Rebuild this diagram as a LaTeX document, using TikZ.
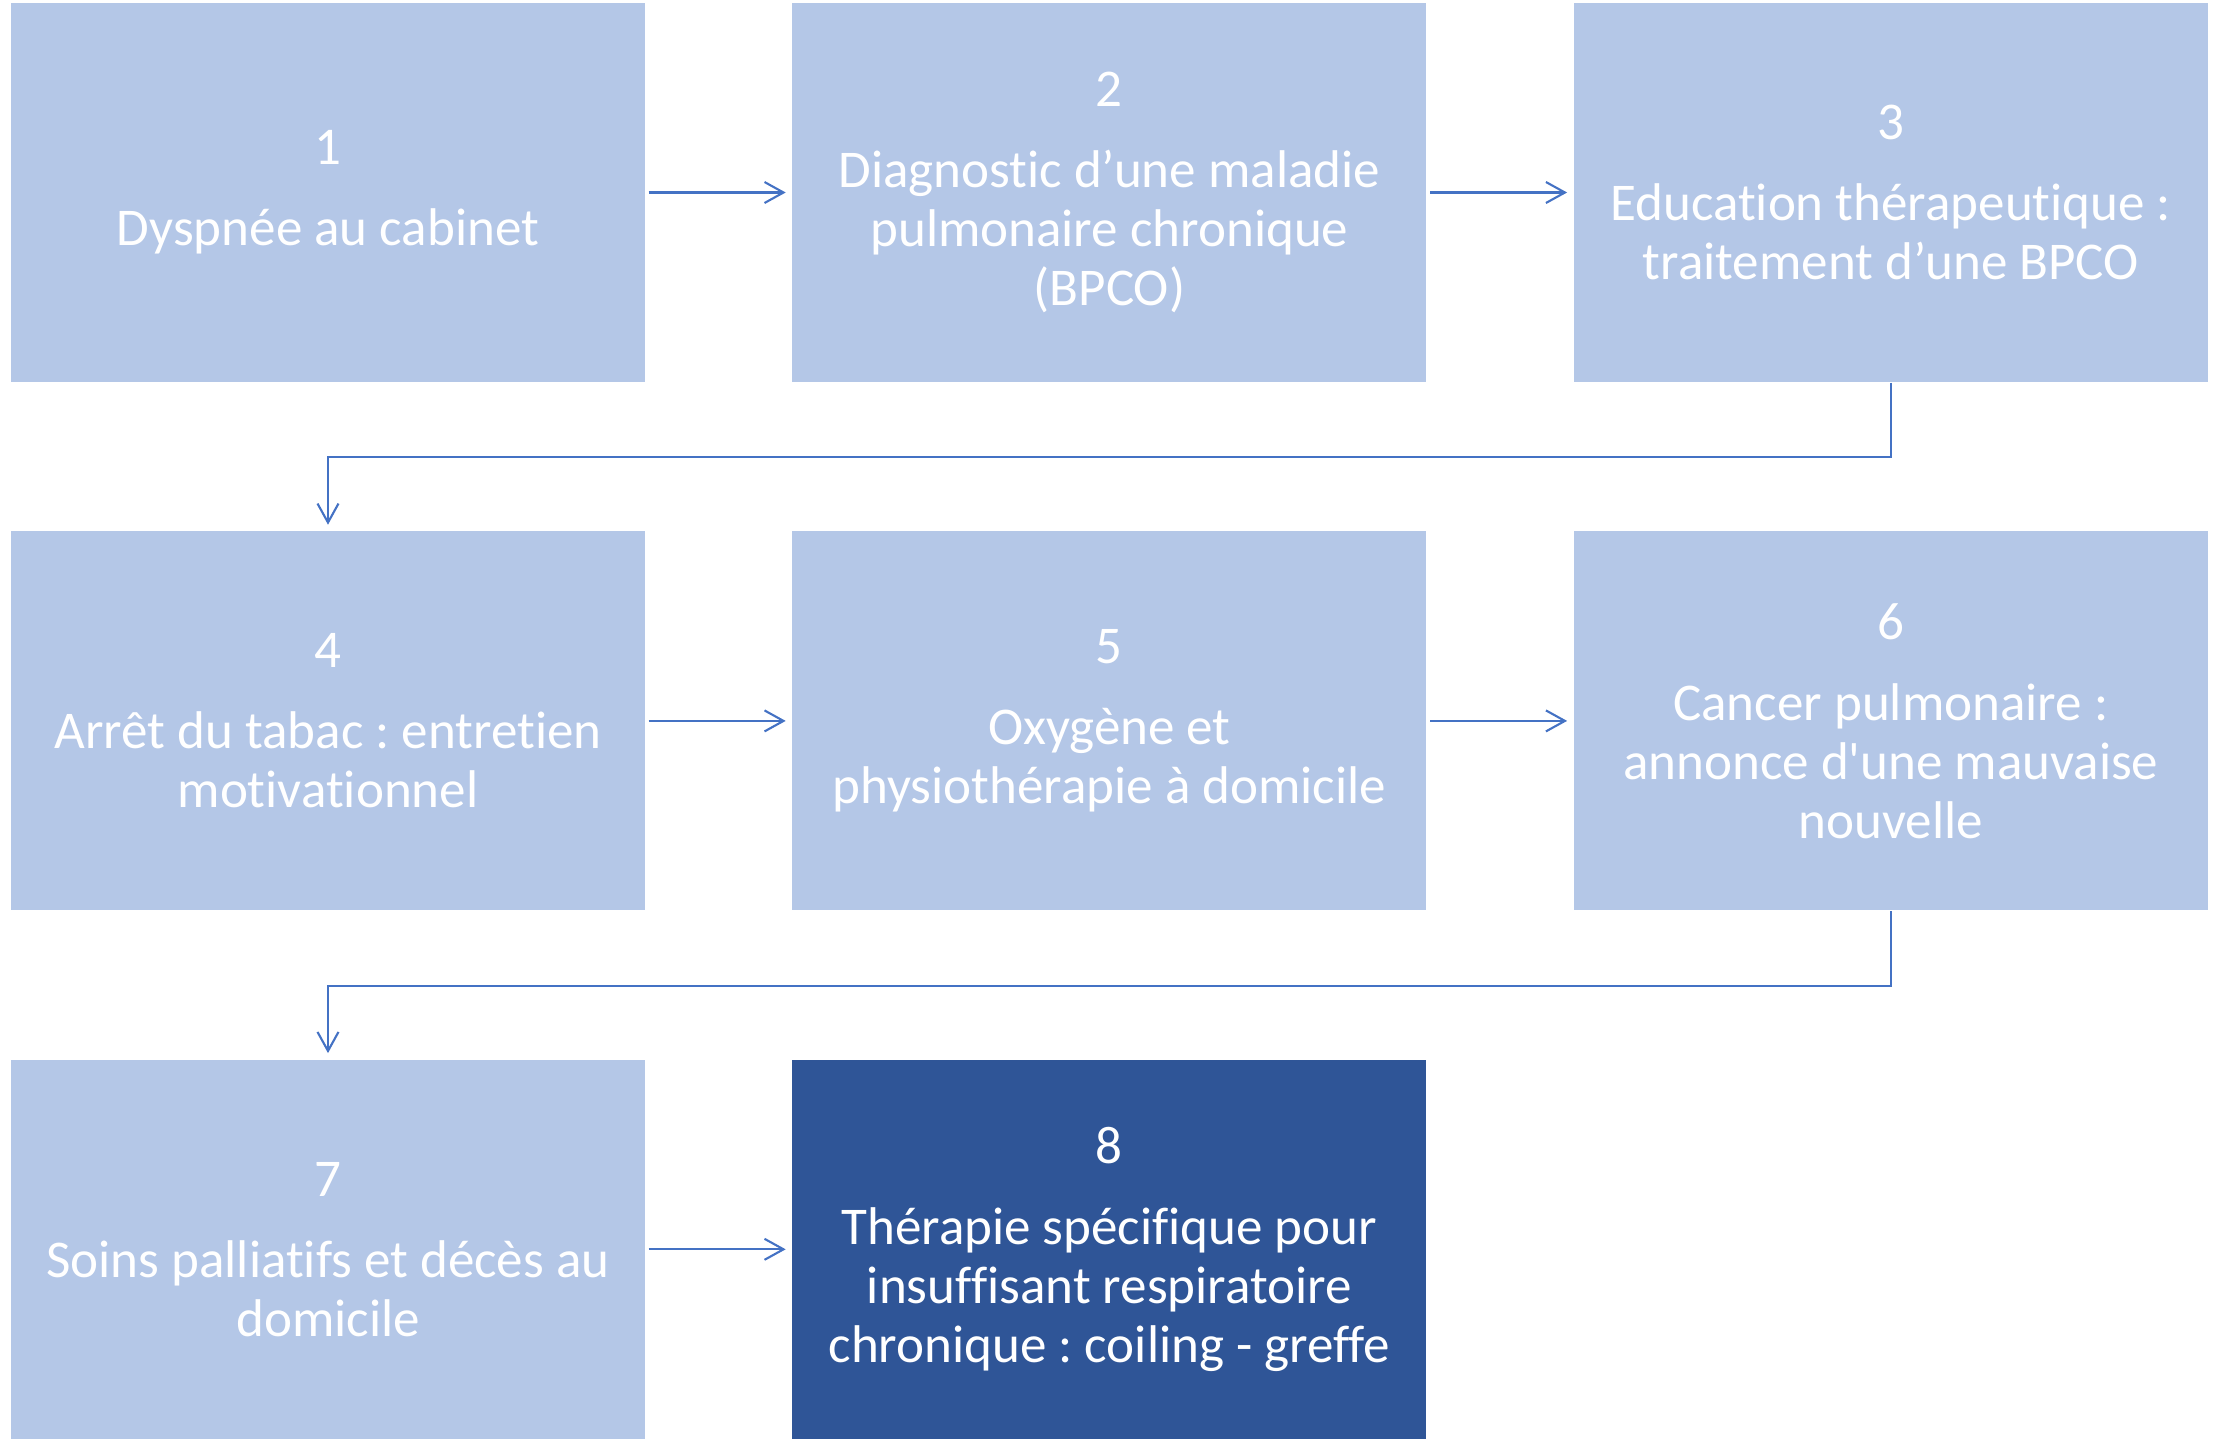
\documentclass[tikz,border=0pt]{standalone}
\usepackage{fontspec}
\setmainfont{Carlito}[Ligatures=NoCommon]
\usetikzlibrary{positioning, arrows.meta}
\definecolor{bleuclair}{HTML}{B4C7E7}
\definecolor{bleufonce}{HTML}{2F5597}
\definecolor{bleutrait}{HTML}{4472C4}
\frenchspacing

\begin{document}
\begin{tikzpicture}[
        etape/.style={fill=bleuclair, text=white, minimum width=6.34cm, minimum height=3.79cm,
                      inner sep=0pt, align=center, font=\fontsize{15.1}{16.8}\selectfont},
        fleche/.style={draw=bleutrait, line width=0.6pt, -{Straight Barb[length=1.9mm,width=2.1mm]},
                       shorten <=0.03cm, shorten >=0.06cm}]
        \useasboundingbox (0,0) rectangle (22.27,-14.40);

        \node[etape] (e1) at (3.28,-1.925) {1\\[0.22cm]Dyspnée au cabinet};
        \node[etape, right=1.46cm of e1] (e2) {2\\[0.22cm]Diagnostic d’une maladie\\pulmonaire chronique\\(BPCO)};
        \node[etape, right=1.46cm of e2] (e3) {3\\[0.22cm]Education thérapeutique :\\traitement d’une BPCO};
        \node[etape, below=1.48cm of e1] (e4) {4\\[0.22cm]Arrêt du tabac : entretien\\motivationnel};
        \node[etape, right=1.46cm of e4] (e5) {5\\[0.22cm]Oxygène et\\physiothérapie à domicile};
        \node[etape, right=1.46cm of e5] (e6) {6\\[0.22cm]Cancer pulmonaire :\\annonce d\textquotesingle une mauvaise\\nouvelle};
        \node[etape, below=1.48cm of e4] (e7) {7\\[0.22cm]Soins palliatifs et décès au\\domicile};
        \node[etape, fill=bleufonce, right=1.46cm of e7] (e8) {8\\[0.22cm]Thérapie spécifique pour\\insuffisant respiratoire\\chronique : coiling - greffe};

        \draw[fleche] (e1) -- (e2);
        \draw[fleche] (e2) -- (e3);
        \draw[fleche] (e4) -- (e5);
        \draw[fleche] (e5) -- (e6);
        \draw[fleche] (e7) -- (e8);
        \draw[fleche, shorten <=0pt] (e3.south) -- ++(0,-0.74) -| (e4.north);
        \draw[fleche, shorten <=0pt] (e6.south) -- ++(0,-0.75) -| (e7.north);
\end{tikzpicture}
\end{document}
